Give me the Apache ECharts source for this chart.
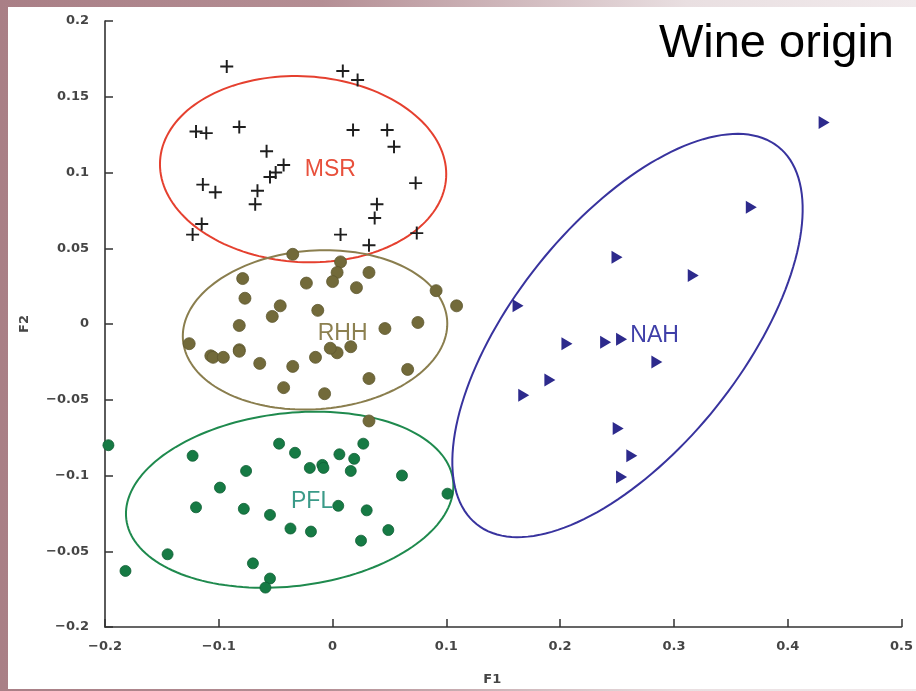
<!DOCTYPE html>
<html>
<head>
<meta charset="utf-8">
<script src="https://cdn.jsdelivr.net/npm/echarts@6/dist/echarts.min.js"></script>
<style>
html,body{margin:0;padding:0;}
body{width:916px;height:691px;background:linear-gradient(90deg,#a97f86 0%,#b48e94 35%,#e9dfe1 75%,#f1eaec 100%);position:relative;overflow:hidden;}
#main{position:absolute;left:0;top:0;width:916px;height:691px;}
#paper{position:absolute;left:8px;top:7px;width:908px;height:682px;background:#fff;}
</style>
</head>
<body>
<div id="paper"></div>
<div id="main"></div>
<script>
// ---- data ----
const xTickLabels = {'-0.2':'\u22120.2','-0.1':'\u22120.1','0':'0','0.1':'0.1','0.2':'0.2','0.3':'0.3','0.4':'0.4','0.5':'0.5'};
const yTickLabels = {'-0.2':'\u22120.2','-0.15':'\u22120.05','-0.1':'\u22120.1','-0.05':'\u22120.05','0':'0','0.05':'0.05','0.1':'0.1','0.15':'0.15','0.2':'0.2'};

const msrPoints = [
  [-0.093,0.170],[0.009,0.167],[0.022,0.161],[-0.120,0.127],[-0.111,0.126],[-0.082,0.130],
  [0.018,0.128],[0.048,0.128],[0.054,0.117],[-0.058,0.114],[-0.043,0.105],[-0.050,0.100],
  [-0.055,0.097],[-0.114,0.092],[-0.103,0.087],[-0.066,0.088],[-0.068,0.079],[0.073,0.093],
  [0.039,0.079],[0.037,0.070],[-0.115,0.066],[-0.123,0.059],[0.007,0.059],[0.032,0.052],[0.074,0.060]
];
const rhhPoints = [
  [-0.035,0.046],[0.007,0.041],[0.004,0.034],[0.000,0.028],[0.032,0.034],[-0.079,0.030],
  [-0.023,0.027],[0.021,0.024],[0.091,0.022],[0.109,0.012],[-0.077,0.017],[-0.046,0.012],
  [-0.053,0.005],[-0.013,0.009],[-0.082,-0.001],[0.046,-0.003],[0.075,0.001],[-0.126,-0.013],
  [-0.107,-0.021],[-0.105,-0.022],[-0.096,-0.022],[-0.082,-0.017],[-0.082,-0.018],[-0.064,-0.026],
  [-0.035,-0.028],[-0.015,-0.022],[0.004,-0.019],[-0.002,-0.016],[0.016,-0.015],[0.066,-0.030],
  [0.032,-0.036],[-0.043,-0.042],[-0.007,-0.046],[0.032,-0.064]
];
const pflPoints = [
  [-0.197,-0.080],[-0.123,-0.087],[-0.047,-0.079],[-0.033,-0.085],[0.027,-0.079],[0.006,-0.086],
  [0.019,-0.089],[-0.020,-0.095],[-0.009,-0.093],[-0.008,-0.095],[-0.076,-0.097],[0.016,-0.097],
  [0.061,-0.100],[-0.099,-0.108],[0.101,-0.112],[-0.120,-0.121],[-0.078,-0.122],[-0.055,-0.126],
  [0.005,-0.120],[0.030,-0.123],[-0.037,-0.135],[-0.019,-0.137],[0.049,-0.136],[0.025,-0.143],
  [-0.145,-0.152],[-0.182,-0.163],[-0.070,-0.158],[-0.055,-0.168],[-0.059,-0.174]
];
const nahPoints = [
  [0.432,0.133],[0.368,0.077],[0.250,0.044],[0.317,0.032],[0.163,0.012],[0.206,-0.013],
  [0.240,-0.012],[0.254,-0.010],[0.285,-0.025],[0.191,-0.037],[0.168,-0.047],[0.251,-0.069],
  [0.263,-0.087],[0.254,-0.101]
];

const groupNames = ['MSR','RHH','PFL','NAH'];
const ellipseCenters = [[-0.0259,0.1022],[-0.0154,-0.0039],[-0.0377,-0.1160],[0.2592,-0.0076]];
const ellipseAxisA   = [[0.1257,-0.0056],[0.1161,0.0064],[0.1436,0.0128],[0.1325,0.1246]];
const ellipseAxisB   = [[0.0048,0.0612],[-0.0051,0.0522],[-0.0090,0.0567],[-0.0784,0.0468]];
const labelPositions = [[-0.002,0.102],[0.0088,-0.0066],[-0.018,-0.117],[0.283,-0.0079]];

// ---- styles ----
const ellipseColors = ['#e5402f','#8a7e4e','#1f8a4e','#38339e'];
const labelColors = ['#e8503c','#8c8050','#3a9a88','#3f3fa8'];

const chart = echarts.init(document.getElementById('main'), null, {renderer:'canvas'});

const crossPath = 'path://M4.25,0 H5.75 V4.25 H10 V5.75 H5.75 V10 H4.25 V5.75 H0 V4.25 H4.25 Z';

const axisLabelStyle = {fontFamily:'DejaVu Sans', fontWeight:'bold', fontSize:13, color:'#454545'};

chart.setOption({
  animation:false,
  backgroundColor:'transparent',
  title:{
    text:'Wine origin', right:22, top:21, padding:0,
    textStyle:{fontFamily:'Liberation Sans', fontWeight:'normal', fontSize:47, color:'#000'}
  },
  grid:{left:105, right:13, top:21, bottom:62, containLabel:false},
  xAxis:{
    type:'value', min:-0.2, max:0.5, interval:0.1,
    name:'F1', nameLocation:'middle', nameGap:46,
    nameTextStyle:{fontFamily:'DejaVu Sans', fontWeight:'bold', fontSize:13, color:'#454545', padding:[0,22,0,0]},
    axisLine:{show:true, onZero:false, lineStyle:{color:'#333', width:1.6}},
    axisTick:{show:true, inside:true, length:8, lineStyle:{color:'#333', width:1.5}},
    splitLine:{show:false},
    axisLabel:Object.assign({margin:13, formatter:function(v){const k=String(Math.round(v*10)/10);return xTickLabels[k]!==undefined?xTickLabels[k]:k;}}, axisLabelStyle)
  },
  yAxis:{
    type:'value', min:-0.2, max:0.2, interval:0.05,
    name:'F2', nameLocation:'middle', nameGap:74, nameRotate:90,
    nameTextStyle:{fontFamily:'DejaVu Sans', fontWeight:'bold', fontSize:13, color:'#454545'},
    axisLine:{show:true, onZero:false, lineStyle:{color:'#333', width:1.6}},
    axisTick:{show:true, inside:true, length:8, lineStyle:{color:'#333', width:1.5}},
    splitLine:{show:false},
    axisLabel:Object.assign({margin:16, formatter:function(v){const k=String(Math.round(v*100)/100);return yTickLabels[k]!==undefined?yTickLabels[k]:k;}}, axisLabelStyle)
  },
  series:[
    {
      type:'custom', coordinateSystem:'cartesian2d', clip:false, silent:true, z:3,
      data: ellipseCenters.map((c,i)=>[c[0],c[1],i]),
      renderItem:function(params, api){
        const i = api.value(2);
        const c = ellipseCenters[i], A = ellipseAxisA[i], B = ellipseAxisB[i];
        const pts = [];
        const n = 160;
        for(let k=0;k<n;k++){
          const t = 2*Math.PI*k/n;
          pts.push(api.coord([c[0]+Math.cos(t)*A[0]+Math.sin(t)*B[0], c[1]+Math.cos(t)*A[1]+Math.sin(t)*B[1]]));
        }
        return {type:'polygon', shape:{points:pts}, style:{fill:null, stroke:ellipseColors[i], lineWidth:2}};
      }
    },
    {type:'scatter', name:'MSR', data:msrPoints, symbol:crossPath, symbolSize:13, z:4,
     itemStyle:{color:'#1e1e1e', opacity:1}},
    {type:'scatter', name:'RHH', data:rhhPoints, symbol:'circle', symbolSize:12, z:4,
     itemStyle:{color:'#726a3a', borderColor:'#5e5830', borderWidth:0.8, opacity:1}},
    {type:'scatter', name:'PFL', data:pflPoints, symbol:'circle', symbolSize:11, z:4,
     itemStyle:{color:'#167a44', borderColor:'#0f6035', borderWidth:0.8, opacity:1}},
    {type:'scatter', name:'NAH', data:nahPoints, symbol:'triangle', symbolSize:[13,11], symbolRotate:-90, z:4,
     itemStyle:{color:'#2d2a8c', opacity:1}},
    {type:'scatter', name:'labels', symbolSize:0, z:5, silent:true,
     itemStyle:{opacity:1},
     data: labelPositions.map((p,i)=>({value:p, name:groupNames[i],
       label:{show:true, position:'inside', formatter:'{b}', fontFamily:'Liberation Sans', fontSize:23, color:labelColors[i], opacity:1}}))
    }
  ]
});
</script>
</body>
</html>
